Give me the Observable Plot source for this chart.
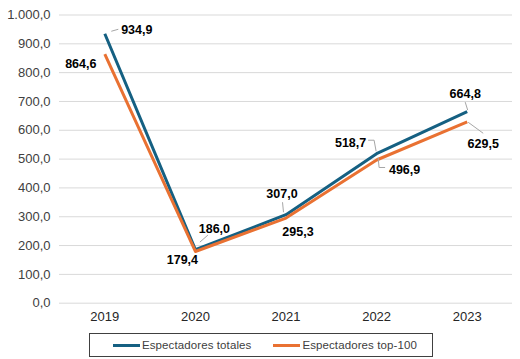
<!DOCTYPE html>
<html><head><meta charset="utf-8">
<script src="https://cdn.jsdelivr.net/npm/d3@7"></script>
<script src="https://cdn.jsdelivr.net/npm/@observablehq/plot@0.6"></script>
<style>
body{margin:0;background:#fff;font-family:"Liberation Sans",Arial,sans-serif}
#legend{box-sizing:border-box;margin:7px 0 0 89px;width:344px;height:24px;border:1px solid #404040;display:flex;align-items:center;font-size:11.5px;letter-spacing:0.1px;color:#404040;white-space:nowrap}
.item{display:flex;align-items:center;flex-shrink:0}
.sw{display:inline-block;width:27px;height:3px;margin-right:2px}
</style>
</head><body>
<div id="chart"></div>
<script>
// ---- data ----
const years = [2019, 2020, 2021, 2022, 2023];
const totales = [934.9, 186.0, 307.0, 518.7, 664.8];
const top100 = [864.6, 179.4, 295.3, 496.9, 629.5];
const seriesNames = ["Espectadores totales", "Espectadores top-100"];
const yTicks = [0, 100, 200, 300, 400, 500, 600, 700, 800, 900, 1000];

// ---- styling / layout ----
const colors = ["#156082", "#E97132"];
const fmt = d3.formatLocale({decimal: ",", thousands: ".", grouping: [3]}).format(",.1f");

const rows = [];
years.forEach((y, i) => {
  rows.push({year: y, value: totales[i], s: seriesNames[0]});
  rows.push({year: y, value: top100[i], s: seriesNames[1]});
});

// label offsets (px) and leader polylines relative to point
const labelOffsetsTot = [[32, -4], [19, -21], [-4, -21], [-26, -11], [-2, -18]];
const labelOffsetsTop = [[-24, 10], [-13, 9], [12, 14], [28, 10], [16, 22]];
const leadersTot = [[[7, -2], [14, -4]], [[5, -7], [13, -14]], [[-2, -2], [-3, -12]], [[-8, -13], [-2, -13], [0, -2]], [[-1.5, -9], [1, -1]]];
const leadersTop = [null, null, null, [[2, -2], [3, 8], [9, 8]], [[1.5, 1], [16.5, 12]]];

const labels = [];
years.forEach((y, i) => {
  labels.push({x: y, y: totales[i], off: labelOffsetsTot[i], leader: leadersTot[i]});
  labels.push({x: y, y: top100[i], off: labelOffsetsTop[i], leader: leadersTop[i]});
});

function leaderMark(index, scales) {
  const g = d3.create("svg:g").attr("stroke", "#a6a6a6").attr("fill", "none").attr("stroke-width", 1);
  for (const l of labels) {
    if (!l.leader) continue;
    const px = scales.x(l.x), py = scales.y(l.y);
    g.append("polyline").attr("points", l.leader.map(([a, b]) => `${px + a},${py + b}`).join(" "));
  }
  return g.node();
}

const plot = Plot.plot({
  width: 520,
  height: 326,
  marginLeft: 59,
  marginRight: 8,
  marginTop: 14.5,
  marginBottom: 23.3,
  style: {fontFamily: "Liberation Sans, Arial, sans-serif", background: "#fff"},
  x: {type: "linear", domain: [2018.5, 2023.5], ticks: years, tickFormat: d => String(d), tickSize: 0, tickPadding: 9, label: null},
  y: {domain: [0, 1000], ticks: yTicks, tickFormat: fmt, tickSize: 0, tickPadding: 9, label: null},
  marks: [
    Plot.ruleY(yTicks, {stroke: "#d9d9d9", strokeWidth: 1}),
    Plot.axisX({ticks: years, tickFormat: d => String(d), tickSize: 0, tickPadding: 9, fontSize: 13, fill: "#262626", label: null}),
    Plot.axisY({ticks: yTicks, tickFormat: fmt, tickSize: 0, tickPadding: 9, fontSize: 13, fill: "#404040", label: null}),
    Plot.line(rows, {x: "year", y: "value", z: "s", stroke: "s", strokeWidth: 3, strokeLinejoin: "round", strokeLinecap: "butt"}),
    leaderMark,
    ...labels.map(l => Plot.text([l], {x: "x", y: "y", text: d => fmt(d.y), dx: l.off[0], dy: l.off[1], fontSize: 12.5, fontWeight: "bold", fill: "#000"}))
  ],
  color: {domain: seriesNames, range: colors}
});
document.getElementById("chart").appendChild(plot);

const legend = d3.select("body").append("div").attr("id", "legend");
seriesNames.forEach((n, i) => {
  const it = legend.append("div").attr("class", "item").style("margin-left", i === 0 ? "23px" : "22px");
  it.append("span").attr("class", "sw").style("background", colors[i]);
  it.append("span").text(n);
});
</script>
</body></html>
